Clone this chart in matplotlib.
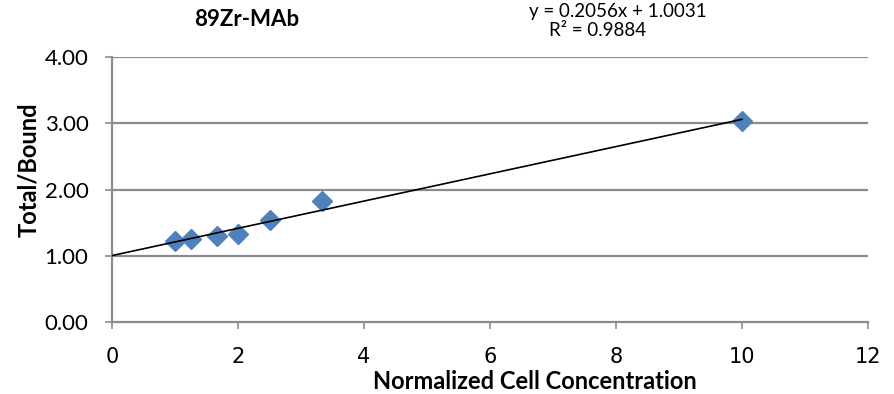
import matplotlib
matplotlib.use("Agg")
import numpy as np
import matplotlib.pyplot as plt
from matplotlib.ticker import FormatStrFormatter

# data
cell_conc = [1.0, 1.25, 1.667, 2.0, 2.5, 3.333, 10.0]
total_bound = [1.23, 1.25, 1.30, 1.33, 1.54, 1.82, 3.04]
slope = 0.2056
intercept = 1.0031
r_squared = 0.9884

x_ticks = [0, 2, 4, 6, 8, 10, 12]
y_ticks = [0, 1, 2, 3, 4]

grid_col = "#8c8c8c"
blue = "#4f81bd"
lato = ["Lato", "DejaVu Sans"]

fig = plt.figure(figsize=(8.94, 3.94), dpi=100)
ax = fig.add_axes([0.1253, 0.1827, 0.8456, 0.6726])

for yv in y_ticks[1:]:
    ax.axhline(yv, color=grid_col, lw=1.6, zorder=1)

xfit = np.array([0.0, max(cell_conc)])
ax.plot(xfit, slope * xfit + intercept, color="k", lw=1.2, zorder=3)
ax.plot(cell_conc, total_bound, "D", color=blue, mec=blue, ms=10.5, zorder=2)

ax.set_xlim(0, 12)
ax.set_ylim(0, 4)
ax.set_xticks(x_ticks)
ax.set_yticks(y_ticks)
ax.yaxis.set_major_formatter(FormatStrFormatter("%.2f"))

for side in ["top", "right"]:
    ax.spines[side].set_visible(False)
for side in ["left", "bottom"]:
    ax.spines[side].set_color(grid_col)
    ax.spines[side].set_linewidth(1.6)
ax.tick_params(direction="out", length=5, width=1.2, color=grid_col)
ax.tick_params(axis="x", labelsize=15, pad=13)
ax.tick_params(axis="y", labelsize=16, pad=12)
for lab in ax.get_xticklabels():
    lab.set_family(["Liberation Sans Narrow", "DejaVu Sans"])
for lab in ax.get_yticklabels():
    lab.set_family(lato)

ax.set_xlabel("Normalized Cell Concentration", fontsize=17, fontweight="bold",
              family=lato)
ax.xaxis.set_label_coords(0.5595, -0.18)
ax.set_ylabel("Total/Bound", fontsize=17, fontweight="bold", family=lato)
ax.yaxis.set_label_coords(-0.095, 0.574)

fig.text(247 / 894, 1 - 20 / 394, "89Zr-MAb", fontsize=16, fontweight="bold",
         family=lato, ha="center", va="center")
fig.text(618 / 894, 1 - 12 / 394, f"y = {slope}x + {intercept}", fontsize=13.5,
         family=lato, ha="center", va="center")
fig.text(598 / 894, 1 - 30 / 394, f"R² = {r_squared}", fontsize=13.5,
         family=lato, ha="center", va="center")

fig.savefig("out.png", dpi=100)
